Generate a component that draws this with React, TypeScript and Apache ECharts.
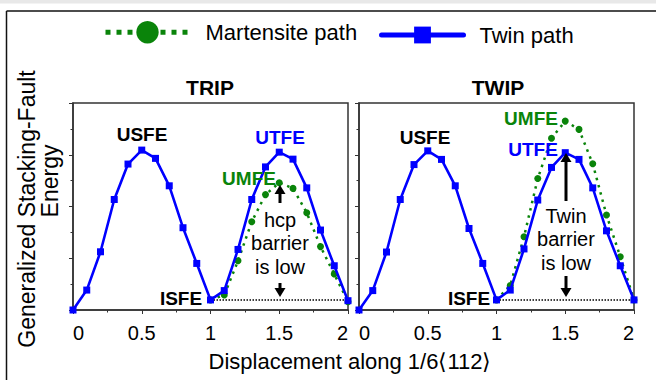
import React, { useEffect, useRef } from "react";
import * as echarts from "echarts";

// Displacement along 1/6<112> (x of every computed point)
const displacement = [0, 0.1, 0.2, 0.3, 0.4, 0.5, 0.6, 0.7, 0.8, 0.9, 1.0, 1.1, 1.2, 1.3, 1.4, 1.5, 1.6, 1.7, 1.8, 1.9, 2.0];
// Martensite path starts at the intrinsic stacking fault (x = 1)
const martensiteX = [1.0, 1.1, 1.2, 1.3, 1.4, 1.5, 1.6, 1.7, 1.8, 1.9, 2.0];

// TRIP panel (arbitrary energy units)
const tripTwin = [0, 0.77, 2.25, 4.27, 5.64, 6.18, 5.86, 4.8, 3.18, 1.8, 0.39, 0.75, 2.34, 4.27, 5.53, 6.1, 5.83, 4.72, 3.09, 1.71, 0.36];
const tripMartensite = [0.39, 0.58, 1.9, 3.41, 4.46, 4.92, 4.7, 3.76, 2.45, 1.39, 0.32];

// TWIP panel
const twipTwin = [0, 0.75, 2.24, 4.27, 5.62, 6.15, 5.82, 4.8, 3.15, 1.8, 0.39, 0.77, 2.36, 4.25, 5.51, 6.08, 5.82, 4.72, 3.06, 1.71, 0.39];
const twipMartensite = [0.39, 0.95, 2.83, 5.08, 6.64, 7.3, 6.98, 5.65, 3.67, 2.06, 0.39];

const panelTitles = ["TRIP", "TWIP"];
const seriesNames = ["Martensite path", "Twin path"];
const xAxisName = "Displacement along 1/6\u27E8112\u27E9";
const yAxisNameLines = ["Generalized Stacking-Fault", "Energy"];

const FONT = '"Liberation Sans", Arial, Helvetica, sans-serif';
const BLUE = "#0000ff";
const GREEN = "#0a840a";
const AXIS = "#333333";

function pairs(xs: number[], ys: number[]) {
  return xs.map((x, i) => [x, ys[i]]);
}

function buildOption() {
  const panels = [
    { twin: tripTwin, mart: tripMartensite },
    { twin: twipTwin, mart: twipMartensite },
  ];
  const gridLefts = [73, 359];

  const grid = gridLefts.map((left) => ({
    left,
    top: 103,
    width: 275,
    height: 207,
    show: true,
    borderColor: AXIS,
    borderWidth: 1.5,
  }));

  const xAxis = gridLefts.map((_, i) => ({
    type: "value",
    gridIndex: i,
    min: 0,
    max: 2,
    interval: 0.5,
    axisLine: { show: true, lineStyle: { color: AXIS, width: 1.5 } },
    axisTick: { show: true, inside: false, length: 4, lineStyle: { color: AXIS, width: 1 } },
    minorTick: { show: true, splitNumber: 2, length: 2.5, lineStyle: { color: AXIS, width: 1 } },
    splitLine: { show: false },
    minorSplitLine: { show: false },
    axisLabel: {
      fontSize: 20,
      color: "#000",
      fontFamily: FONT,
      margin: 13,
      alignMinLabel: "left",
      alignMaxLabel: "right",
      formatter: (v: number) => String(v),
    },
  }));

  const yAxis = gridLefts.map((_, i) => ({
    type: "value",
    gridIndex: i,
    min: 0,
    max: 8,
    interval: 2,
    axisLine: { show: true, lineStyle: { color: AXIS, width: 1.5 } },
    axisTick: { show: true, inside: false, length: 4, lineStyle: { color: AXIS, width: 1 } },
    minorTick: { show: true, splitNumber: 2, length: 2.5, lineStyle: { color: AXIS, width: 1 } },
    splitLine: { show: false },
    axisLabel: { show: false },
  }));

  const series: any[] = [];
  panels.forEach((p, i) => {
    const isfe = p.twin[10];
    series.push({
      name: seriesNames[0],
      type: "line",
      xAxisIndex: i,
      yAxisIndex: i,
      data: pairs(martensiteX, p.mart),
      symbol: "circle",
      symbolSize: 7,
      itemStyle: { color: GREEN },
      lineStyle: { color: GREEN, width: 2.5, type: [2.5, 5] },
      z: 2,
    });
    series.push({
      name: "isfe-level",
      type: "line",
      xAxisIndex: i,
      yAxisIndex: i,
      data: [
        [1, isfe],
        [2, isfe],
      ],
      symbol: "none",
      silent: true,
      lineStyle: { color: "#000", width: 1.5, type: [1.5, 1.5] },
      z: 1,
    });
    series.push({
      name: seriesNames[1],
      type: "line",
      xAxisIndex: i,
      yAxisIndex: i,
      data: pairs(displacement, p.twin),
      symbol: "rect",
      symbolSize: 7,
      itemStyle: { color: BLUE },
      lineStyle: { color: BLUE, width: 2.6 },
      z: 3,
    });
  });

  const legendText = { fontSize: 22, color: "#000", fontFamily: FONT, padding: [0, 0, 0, 11] };
  const legend = [
    {
      data: [{ name: seriesNames[0], lineStyle: { width: 5, type: [5, 6], color: GREEN } }],
      left: 98,
      top: 16,
      itemWidth: 84,
      itemHeight: 28,
      selectedMode: false,
      textStyle: legendText,
    },
    {
      data: [{ name: seriesNames[1], lineStyle: { width: 5, type: "solid", cap: "round", color: BLUE } }],
      left: 374,
      top: 19,
      itemWidth: 82,
      itemHeight: 21,
      selectedMode: false,
      textStyle: legendText,
    },
  ];

  const title = [
    { text: panelTitles[0], left: 210, top: 77 },
    { text: panelTitles[1], left: 498, top: 77 },
  ].map((t) => ({
    ...t,
    textAlign: "center",
    padding: 0,
    textStyle: { fontSize: 21, fontWeight: "bold", color: "#000", fontFamily: FONT },
  }));

  const label = (text: string, x: number, y: number, fill: string) => ({
    type: "text",
    x,
    y,
    z: 100,
    style: {
      text,
      fill,
      fontSize: 19,
      fontWeight: "bold",
      fontFamily: FONT,
      textAlign: "center",
      textVerticalAlign: "middle",
    },
  });
  const note = (text: string, x: number, y: number) => ({
    type: "text",
    x,
    y,
    z: 100,
    style: {
      text,
      fill: "#000",
      fontSize: 20,
      fontFamily: FONT,
      textAlign: "center",
      textVerticalAlign: "middle",
      lineHeight: 23.5,
    },
  });
  const arrow = (x: number, yFrom: number, yTip: number) => {
    const dir = yTip < yFrom ? -1 : 1;
    const head = 9;
    return [
      {
        type: "line",
        z: 100,
        shape: { x1: x, y1: yFrom, x2: x, y2: yTip - dir * (head - 1) },
        style: { stroke: "#000", lineWidth: 3 },
      },
      {
        type: "polygon",
        z: 100,
        shape: {
          points: [
            [x - 5.5, yTip - dir * head],
            [x + 5.5, yTip - dir * head],
            [x, yTip],
          ],
        },
        style: { fill: "#000" },
      },
    ];
  };

  const graphic = [
    { type: "rect", shape: { x: 0, y: 0, width: 656, height: 3.5 }, style: { fill: "#e8e8e8" }, silent: true },
    { type: "line", shape: { x1: 6.5, y1: 11, x2: 656, y2: 11 }, style: { stroke: "#111", lineWidth: 1.5 } },
    { type: "line", shape: { x1: 6.5, y1: 11, x2: 6.5, y2: 380 }, style: { stroke: "#111", lineWidth: 1.5 } },
    // axis names
    {
      type: "text",
      x: 350,
      y: 361,
      style: { text: xAxisName, fill: "#000", fontSize: 22, fontFamily: FONT, textAlign: "center", textVerticalAlign: "middle" },
    },
    {
      type: "text",
      x: 27,
      y: 209,
      rotation: Math.PI / 2,
      style: { text: yAxisNameLines[0], fill: "#000", fontSize: 23, fontFamily: FONT, textAlign: "center", textVerticalAlign: "middle" },
    },
    {
      type: "text",
      x: 50,
      y: 181,
      rotation: Math.PI / 2,
      style: { text: yAxisNameLines[1], fill: "#000", fontSize: 23, fontFamily: FONT, textAlign: "center", textVerticalAlign: "middle" },
    },
    // TRIP annotations
    label("USFE", 142, 134, "#000"),
    label("UTFE", 280, 137, BLUE),
    label("UMFE", 249, 178, GREEN),
    label("ISFE", 181, 298, "#000"),
    note("hcp\nbarrier\nis low", 280, 243),
    ...arrow(280, 203, 185),
    ...arrow(280, 283, 297),
    // TWIP annotations
    label("USFE", 425, 137, "#000"),
    label("UMFE", 531, 118, GREEN),
    label("UTFE", 533, 149, BLUE),
    label("ISFE", 469, 298, "#000"),
    note("Twin\nbarrier\nis low", 566, 239),
    ...arrow(566, 201, 153),
    ...arrow(566, 276, 297),
  ];

  return {
    animation: false,
    backgroundColor: "#ffffff",
    textStyle: { fontFamily: FONT },
    title,
    legend,
    grid,
    xAxis,
    yAxis,
    series,
    graphic,
  };
}

export default function App() {
  const ref = useRef<HTMLDivElement>(null);
  useEffect(() => {
    if (!ref.current) return;
    const chart = echarts.init(ref.current, null, { renderer: "svg" });
    chart.setOption(buildOption() as any);
    return () => chart.dispose();
  }, []);
  return <div ref={ref} style={{ position: "absolute", left: 0, top: 0, width: 656, height: 380 }} />;
}
